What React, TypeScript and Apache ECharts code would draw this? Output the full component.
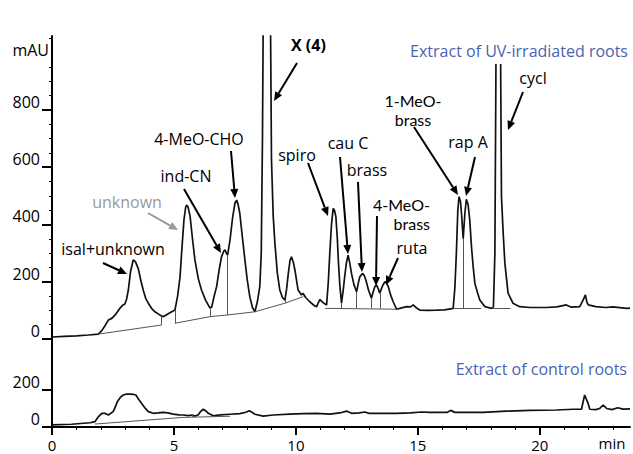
import React, { useEffect, useRef } from "react";
import * as echarts from "echarts";

// Tick labels
const xTickValues = [0, 5, 10, 15, 20];
const upperTickValues = [0, 200, 400, 600, 800];
const lowerTickValues = [0, 200];

// Extract of UV-irradiated roots: [time (min), absorbance (mAU)]
const uvTrace: number[][] = [
  [0, 7], [0.5, 9], [1.0, 11], [1.5, 14], [1.9, 17], [2.05, 30], [2.2, 50], [2.31, 66], [2.45, 72],
  [2.6, 85], [2.79, 108], [2.9, 118], [2.99, 122], [3.06, 140], [3.13, 171], [3.22, 235], [3.33, 276],
  [3.42, 270], [3.54, 245], [3.64, 205], [3.74, 171], [3.85, 140], [3.95, 125], [4.1, 105], [4.22, 95],
  [4.4, 85], [4.56, 78], [4.8, 90], [5.04, 101], [5.15, 150], [5.25, 217], [5.33, 320], [5.41, 415],
  [5.48, 460], [5.52, 468], [5.58, 460], [5.66, 430], [5.76, 350], [5.86, 276], [6.0, 210], [6.13, 171],
  [6.3, 135], [6.48, 108], [6.55, 112], [6.65, 150], [6.75, 183], [6.85, 240], [6.95, 287], [7.05, 308],
  [7.09, 311], [7.15, 300], [7.2, 293], [7.3, 346], [7.4, 420], [7.5, 474], [7.57, 485], [7.63, 470],
  [7.7, 439], [7.8, 360], [7.91, 276], [8.0, 210], [8.11, 148], [8.22, 110], [8.32, 95], [8.42, 130],
  [8.52, 183], [8.58, 300], [8.63, 700], [8.66, 1100], [8.81, 2200], [8.96, 1100], [9.0, 625], [9.07, 430],
  [9.14, 334], [9.24, 230], [9.34, 171], [9.45, 145], [9.55, 136], [9.62, 175], [9.69, 229], [9.76, 275],
  [9.82, 287], [9.89, 270], [9.96, 241], [10.09, 171], [10.23, 154], [10.3, 159], [10.4, 145], [10.57, 130],
  [10.78, 115], [10.85, 113], [10.98, 138], [11.1, 128], [11.26, 119], [11.33, 200], [11.39, 299],
  [11.46, 400], [11.53, 456], [11.58, 450], [11.64, 427], [11.7, 350], [11.74, 276], [11.8, 190],
  [11.87, 125], [11.94, 170], [12.0, 217], [12.07, 265], [12.14, 293], [12.21, 265], [12.28, 229],
  [12.38, 190], [12.49, 165], [12.56, 195], [12.62, 217], [12.73, 229], [12.8, 222], [12.87, 206],
  [12.98, 170], [13.1, 142], [13.17, 165], [13.24, 183], [13.31, 188], [13.38, 175], [13.44, 160],
  [13.55, 185], [13.65, 200], [13.72, 195], [13.78, 185], [13.88, 155], [13.99, 130], [14.13, 104],
  [14.3, 108], [14.54, 113], [14.7, 112], [14.81, 119], [14.95, 108], [15.08, 101], [15.4, 100],
  [15.77, 101], [16.1, 102], [16.45, 107], [16.52, 180], [16.58, 299], [16.64, 450], [16.69, 497],
  [16.75, 480], [16.79, 440], [16.86, 350], [16.93, 440], [16.99, 488], [17.06, 470], [17.13, 415],
  [17.2, 322], [17.27, 252], [17.34, 194], [17.47, 155], [17.54, 136], [17.75, 113], [18.02, 107],
  [18.1, 112], [18.16, 300], [18.2, 900], [18.23, 1500], [18.3, 2200], [18.37, 1500], [18.4, 900],
  [18.43, 497], [18.5, 370], [18.57, 264], [18.7, 160], [18.9, 125], [19.18, 113], [19.6, 110],
  [20.27, 110], [20.7, 112], [21.09, 119], [21.3, 111], [21.64, 113], [21.8, 140], [21.87, 154],
  [21.93, 130], [21.99, 119], [22.3, 113], [22.7, 110], [23.0, 112], [23.55, 107], [23.7, 108],
];

// Extract of control roots: [time (min), absorbance (mAU)]
const controlTrace: number[][] = [
  [0, 11], [0.8, 15], [1.56, 23], [1.76, 29], [1.9, 55], [2.04, 74], [2.17, 74], [2.31, 65], [2.51, 83],
  [2.6, 110], [2.68, 137], [2.8, 160], [2.92, 173], [3.05, 178], [3.2, 178], [3.35, 176], [3.44, 173],
  [3.55, 150], [3.67, 128], [3.8, 105], [3.95, 83], [4.15, 74], [4.35, 76], [4.56, 79], [4.75, 76],
  [4.97, 70], [5.2, 66], [5.38, 65], [5.6, 62], [5.75, 65], [5.86, 59], [6.0, 66], [6.1, 85], [6.2, 96],
  [6.3, 88], [6.41, 74], [6.61, 61], [6.9, 66], [7.3, 69], [7.7, 72], [7.95, 80], [8.09, 88], [8.2, 80],
  [8.32, 69], [8.66, 59], [9.07, 65], [9.75, 70], [10.3, 72], [10.85, 74], [11.39, 70], [11.8, 76],
  [12.08, 86], [12.28, 74], [12.6, 76], [12.83, 81], [13.0, 74], [14.13, 74], [14.7, 76], [15.15, 81],
  [15.49, 79], [16.2, 79], [16.34, 90], [16.52, 79], [17.68, 79], [18.63, 86], [19.59, 90], [20.68, 92],
  [21.37, 96], [21.71, 96], [21.84, 173], [21.98, 128], [22.05, 96], [22.3, 94], [22.45, 100],
  [22.6, 119], [22.75, 100], [22.95, 94], [23.2, 104], [23.41, 97], [23.7, 98],
];

// Integration baselines and drop lines (segments of [time, mAU] pairs)
const uvBaselines: number[][][] = [
  [[1.9, 17], [4.5, 49]], [[4.5, 49], [4.5, 80]],
  [[5.04, 55], [6.48, 78]], [[5.04, 55], [5.04, 101]], [[6.48, 78], [6.48, 108]],
  [[6.48, 78], [7.2, 84]], [[7.2, 84], [7.2, 293]],
  [[7.2, 84], [8.32, 95]],
  [[8.32, 95], [9.55, 125]], [[9.55, 125], [9.55, 136]],
  [[9.55, 125], [10.3, 148]],
  [[11.2, 107], [14.13, 104]],
  [[11.87, 107], [11.87, 125]], [[12.49, 107], [12.49, 165]],
  [[13.1, 107], [13.1, 142]], [[13.44, 107], [13.44, 160]],
  [[16.45, 107], [17.6, 107]], [[16.86, 107], [16.86, 350]],
  [[18.05, 107], [18.8, 107]],
];
const controlBaselines: number[][][] = [
  [[1.76, 16], [5.38, 52]], [[5.38, 52], [7.3, 58]], [[5.75, 53], [5.75, 65]],
];

const FONT = "'Open Sans', 'DejaVu Sans', sans-serif";
const TIGHT_FONT = "Lato, 'Open Sans', sans-serif";

function arrow(x1: number, y1: number, x2: number, y2: number, color = "#000") {
  const ang = Math.atan2(y2 - y1, x2 - x1);
  const L = 9;
  const W = 4;
  const bx = x2 - L * Math.cos(ang);
  const by = y2 - L * Math.sin(ang);
  const px = -Math.sin(ang) * W;
  const py = Math.cos(ang) * W;
  return [
    { type: "line", z: 100, shape: { x1, y1, x2: bx, y2: by }, style: { stroke: color, lineWidth: 2 } },
    {
      type: "polygon", z: 100,
      shape: { points: [[x2, y2], [bx + px, by + py], [bx - px, by - py]] },
      style: { fill: color },
    },
  ];
}

function label(text: string, x: number, y: number, opts: any = {}) {
  return {
    type: "text", z: 101, x, y,
    style: {
      text, fontFamily: opts.fontFamily ?? FONT, fontSize: opts.fontSize ?? 16, fill: opts.color ?? "#000",
      fontWeight: opts.fontWeight ?? "normal", lineHeight: opts.lineHeight,
      align: opts.align ?? "center", verticalAlign: "middle", rich: opts.rich,
    },
  };
}

export default function App() {
  const ref = useRef<HTMLDivElement>(null);
  useEffect(() => {
    document.body.style.margin = "0";
    const chart = echarts.init(ref.current!, null, { renderer: "svg" });
    const seg = (s: number[][][]) => s.map(([a, b]) => [{ coord: a }, { coord: b }]);
    const axisLabelBase = { fontFamily: FONT, fontSize: 16, color: "#000" };

    chart.setOption({
      animation: false,
      backgroundColor: "#fff",
      grid: [
        { left: 52, right: 3, top: 36, height: 303, containLabel: false, outerBoundsMode: "none" },
        { left: 52, right: 3, top: 339, height: 88, containLabel: false, outerBoundsMode: "none" },
      ],
      xAxis: [
        { gridIndex: 0, type: "value", min: 0, max: 23.7, show: false },
        {
          gridIndex: 1, type: "value", min: 0, max: 23.7, interval: 5,
          axisLine: { show: true, onZero: false, lineStyle: { color: "#000", width: 2 } },
          axisTick: { show: true, length: 8, customValues: xTickValues, lineStyle: { color: "#000", width: 2 } },
          minorTick: { show: true, splitNumber: 5, length: 3, lineStyle: { color: "#000", width: 1 } },
          axisLabel: {
            ...axisLabelBase, fontSize: 15, lineHeight: 15, margin: 10, customValues: xTickValues,
            formatter: (v: number) => (xTickValues.includes(v) ? String(v) : ""),
          },
          splitLine: { show: false },
        },
      ],
      yAxis: [
        {
          gridIndex: 0, type: "value", min: 0, max: 1058, interval: 200,
          axisLine: { show: true, onZero: false, lineStyle: { color: "#000", width: 2 } },
          axisTick: { show: true, length: 10, customValues: upperTickValues, lineStyle: { color: "#000", width: 2 } },
          minorTick: { show: true, splitNumber: 4, length: 3, lineStyle: { color: "#000", width: 1 } },
          axisLabel: {
            ...axisLabelBase, margin: 12, verticalAlign: "bottom", customValues: upperTickValues,
            formatter: (v: number) => (upperTickValues.includes(v) ? String(v) : ""),
          },
          splitLine: { show: false },
        },
        {
          gridIndex: 1, type: "value", min: 0, max: 476, interval: 200,
          axisLine: { show: true, onZero: false, lineStyle: { color: "#000", width: 2 } },
          axisTick: { show: true, length: 10, customValues: lowerTickValues, lineStyle: { color: "#000", width: 2 } },
          axisLabel: {
            ...axisLabelBase, margin: 12, verticalAlign: "bottom", customValues: lowerTickValues,
            formatter: (v: number) => (lowerTickValues.includes(v) ? String(v) : ""),
          },
          splitLine: { show: false },
        },
      ],
      series: [
        {
          name: "Extract of UV-irradiated roots", type: "line", xAxisIndex: 0, yAxisIndex: 0,
          data: uvTrace, showSymbol: false, clip: true, smooth: false,
          lineStyle: { color: "#111", width: 1.7 },
          markLine: {
            silent: true, symbol: ["none", "none"], label: { show: false },
            lineStyle: { color: "#555", width: 1, type: "solid" },
            emphasis: { disabled: true },
            data: seg(uvBaselines),
          },
        },
        {
          name: "Extract of control roots", type: "line", xAxisIndex: 1, yAxisIndex: 1,
          data: controlTrace, showSymbol: false, clip: true,
          lineStyle: { color: "#111", width: 1.7 },
          markLine: {
            silent: true, symbol: ["none", "none"], label: { show: false },
            lineStyle: { color: "#555", width: 1, type: "solid" },
            emphasis: { disabled: true },
            data: seg(controlBaselines),
          },
        },
      ],
      graphic: [
        { type: "rect", z: 99, shape: { x: 405, y: 28, width: 228, height: 36 }, style: { fill: "#fff" } },
        label("Extract of UV-irradiated roots", 628, 51, { align: "right", color: "#4A62B0" }),
        label("Extract of control roots", 627, 369, { align: "right", color: "#4A62B0" }),
        label("mAU", 49, 50, { align: "right" }),
        label("min", 612, 443, { fontSize: 15, lineHeight: 15 }),
        label("isal+unknown", 113, 249),
        label("unknown", 127, 202, { color: "#999" }),
        label("ind-CN", 186, 176),
        label("4-MeO-CHO", 199, 139),
        label("X ({b|4})", 291, 45, {
          align: "left", fontWeight: "bold",
          rich: { b: { fontWeight: "bold", fontFamily: FONT, fontSize: 16 } },
        }),
        label("spiro", 297, 155),
        label("cau C", 348, 143),
        label("brass", 367, 170),
        label("4-MeO-\nbrass", 430, 214, { align: "right", fontFamily: TIGHT_FONT, fontSize: 16, lineHeight: 19 }),
        label("ruta", 412, 248),
        label("1-MeO-\nbrass", 413, 110, { fontFamily: TIGHT_FONT, fontSize: 16, lineHeight: 19 }),
        label("rap A", 468, 142),
        label("cycl", 533, 78),
        ...arrow(103, 263, 127, 274),
        ...arrow(148, 213, 178, 230, "#999"),
        ...arrow(184, 189, 221, 253),
        ...arrow(231, 151, 235, 198),
        ...arrow(297, 63, 274, 101),
        ...arrow(308, 163, 328, 216),
        ...arrow(340, 157, 348, 254),
        ...arrow(358, 182, 362, 272),
        ...arrow(377, 216, 376, 286),
        ...arrow(398, 258, 386, 285),
        ...arrow(414, 127, 458, 195),
        ...arrow(475, 157, 466, 196),
        ...arrow(523, 92, 508, 130),
      ],
    });
    return () => chart.dispose();
  }, []);
  return (
    <div
      ref={ref}
      style={{ position: "fixed", left: 0, top: 0, width: 633, height: 454, background: "#fff" }}
    />
  );
}
